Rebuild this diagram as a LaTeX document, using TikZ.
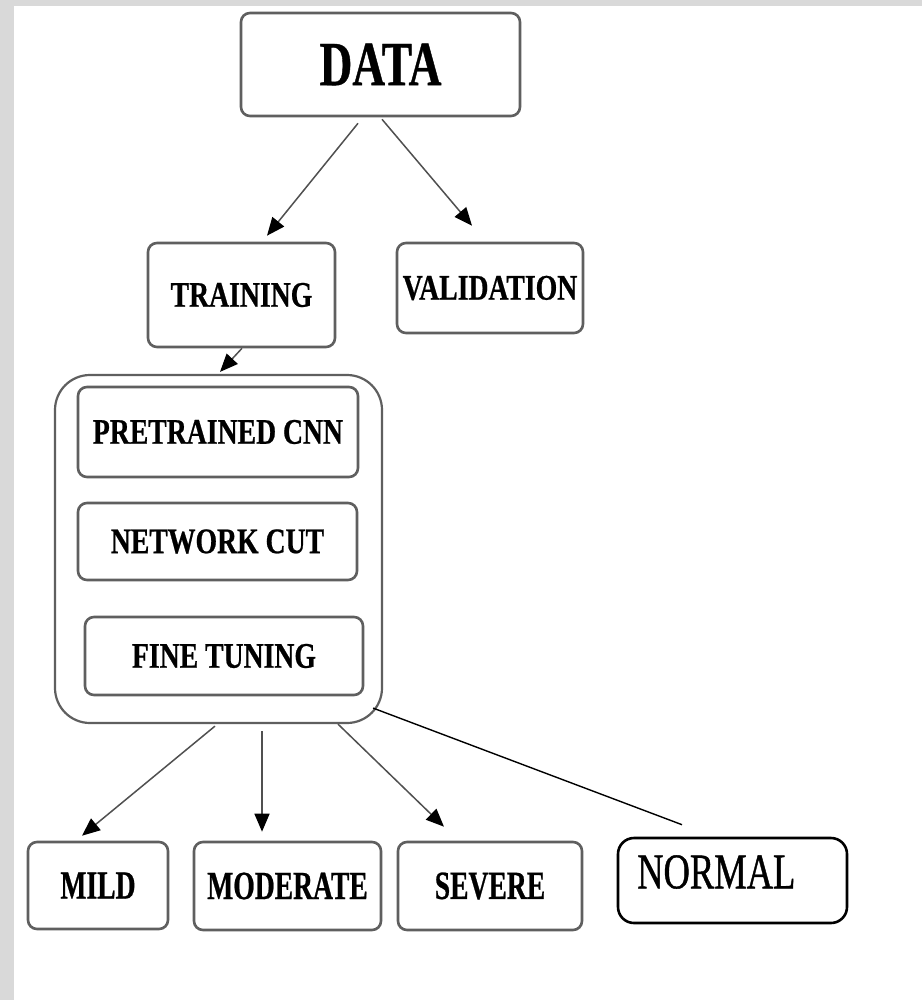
\documentclass[tikz,border=0pt]{standalone}
\usepackage{fontspec}
\usetikzlibrary{arrows.meta}
\newfontfamily\lblfont[FakeStretch=0.77,FakeBold=0.6]{Liberation Serif Bold}
\newfontfamily\datafont[FakeStretch=0.72,FakeBold=0.6]{Liberation Serif Bold}
\newfontfamily\botfont[FakeStretch=0.69,FakeBold=0.6]{Liberation Serif Bold}
\newfontfamily\normfont[FakeStretch=0.73,FakeBold=0.8]{Liberation Serif}
\definecolor{bggray}{HTML}{D9D9D9}
\definecolor{boxgray}{HTML}{5F5F5F}
\definecolor{arrgray}{HTML}{505050}
\tikzset{
  box/.style={draw=boxgray, line width=2.6pt, rounded corners=9pt, inner sep=0pt, align=center},
  inner/.style={box, font=\lblfont\fontsize{36}{40}\selectfont},
  bottom/.style={box, font=\botfont\fontsize{40}{44}\selectfont},
  container/.style={draw=boxgray, line width=2.2pt, rounded corners=35pt, inner sep=0pt},
  arr/.style={draw=arrgray, line width=1.5pt, -{Triangle[length=18pt,width=15pt,fill=black,color=black]}},
  thinline/.style={draw=black, line width=1.4pt}
}
\begin{document}
\begin{tikzpicture}[x=1pt,y=-1pt]
\useasboundingbox (0,0) rectangle (922,1000);
\fill[bggray] (0,0) rectangle (922,1000);
\fill[white] (14,6) rectangle (922,1000);

\node[box, minimum width=279pt, minimum height=103pt, font=\datafont\fontsize{63}{66}\selectfont] (data) at (380.5,64.5) {DATA};
\node[inner, minimum width=187pt, minimum height=104pt] (training) at (241.5,295) {TRAINING};
\node[inner, minimum width=186pt, minimum height=90pt] (validation) at (490,288) {VALIDATION};

\node[container, minimum width=327pt, minimum height=348pt] (cont) at (218.5,549) {};
\node[inner, minimum width=280pt, minimum height=90pt] (pre) at (218,432) {PRETRAINED CNN};
\node[inner, minimum width=279pt, minimum height=77pt] (cut) at (217.5,541.5) {NETWORK CUT};
\node[inner, minimum width=278pt, minimum height=78pt] (fine) at (224,656) {FINE TUNING};

\node[bottom, minimum width=140pt, minimum height=87pt] (mild) at (98,885.5) {MILD};
\node[bottom, minimum width=187pt, minimum height=88pt] (moderate) at (287.5,886) {MODERATE};
\node[bottom, minimum width=184pt, minimum height=88pt] (severe) at (490,886) {SEVERE};
\node[draw=black, line width=2.6pt, rounded corners=16pt, minimum width=229pt, minimum height=85pt, inner sep=0pt] (normal) at (732.5,880.5) {};
\node[anchor=north west, inner sep=0pt, font=\normfont\fontsize{50}{54}\selectfont] (normaltext) at (637,855) {NORMAL};

\draw[arr] ([xshift=-22.5pt,yshift=-6pt]data.south) -- ([xshift=25.5pt,yshift=6pt]training.north);
\draw[arr] ([xshift=1.5pt,yshift=-2pt]data.south) -- ([xshift=-18pt,yshift=16pt]validation.north);
\draw[arr] ([xshift=0.5pt]training.south) -- ([xshift=1.5pt,yshift=2pt]cont.north);
\draw[arr] ([xshift=-3.5pt,yshift=-2pt]cont.south) -- ([xshift=-16pt,yshift=5pt]mild.north);
\draw[arr] ([xshift=43.5pt,yshift=-7pt]cont.south) -- ([xshift=-25.5pt,yshift=9pt]moderate.north);
\draw[arr] ([xshift=119.5pt]cont.south) -- ([xshift=-46pt,yshift=14pt]severe.north);
\draw[thinline] ([xshift=-10pt,yshift=16pt]cont.south east) -- ([xshift=-50.5pt,yshift=12pt]normal.north);
\end{tikzpicture}
\end{document}
